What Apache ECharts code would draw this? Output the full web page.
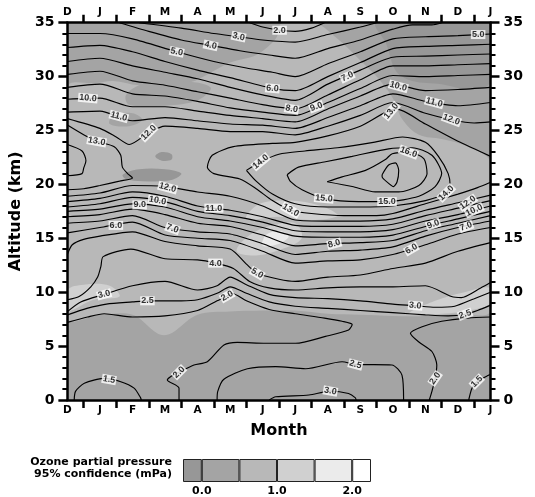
<!DOCTYPE html>
<html><head><meta charset="utf-8">
<script src="https://cdn.jsdelivr.net/npm/echarts@6/dist/echarts.min.js"></script>
<style>html,body{margin:0;padding:0;background:#fff}#c{width:535px;height:497px}</style>
</head><body><div id="c"></div>
<script>
const months = ['D','J','F','M','A','M','J','J','A','S','O','N','D','J'];

// contour lines: [monthIndex, altitude km]
const L15L = [[0.21,0],[0.25,0.8],[0.52,1.55],[1.12,2.0],[1.64,1.7],[2.05,1.1],[2.25,0.2],[2.27,0]];
const L15R = [[12.33,0],[12.43,1.1],[12.58,1.7],[12.94,2.3],[13,2.35]];
const L20 = [[0,7.2],[0.62,7.7],[1.13,8.0],[2.0,7.7],[3.0,7.8],[4.0,8.3],[4.6,9.2],[4.91,9.65],[5.05,9.9],[5.5,9.2],[6.2,8.4],[7.0,8.0],[7.9,7.6],[8.44,7.3],[8.75,7.0],[8.64,6.5],[7.93,5.9],[7.01,5.26],[6.09,5.26],[5.22,5.35],[4.81,5.1],[4.3,3.55],[3.89,3.25],[3.43,2.57],[3.17,2.16],[3.07,1.86],[3.43,1.1],[3.43,0]];
const L20R = [[13,7.7],[12.3,7.6],[11.5,7.3],[10.9,6.8],[10.54,6.2],[10.79,5.4],[11.2,4.5],[11.35,3.25],[11.3,2.0],[11.2,0.8],[11.12,0]];
const L25B = [[4.6,0],[4.62,0.8],[4.8,1.9],[5.53,2.9],[6.4,3.1],[7.32,2.9],[8.44,3.55],[8.85,3.3],[9.97,3.25],[10.28,2.3],[10.33,0]];
const L30B = [[6.2,0],[6.4,0.3],[7.42,0.46],[8.08,0.83],[8.64,0.6],[8.85,0.2],[8.87,0]];
const L25 = [[0,7.9],[0.6,8.5],[1.2,8.9],[2.0,9.1],[2.46,9.2],[3.5,9.2],[4.0,9.3],[4.6,9.9],[5.0,10.5],[5.5,9.9],[6.2,9.1],[7,8.7],[8,8.5],[9,8.3],[10,8.1],[11,7.9],[11.7,7.8],[12.22,7.95],[12.6,8.3],[13,8.8]];
const L30 = [[0,8.2],[0.41,9.1],[1.13,9.8],[2.0,10.6],[3.0,11.0],[4.0,10.2],[4.6,10.6],[5.0,11.4],[5.5,10.7],[6.2,9.8],[7,9.5],[8,9.4],[9,9.2],[10,8.9],[10.69,8.75],[11.3,8.6],[11.9,8.7],[12.5,9.4],[13,10.0]];
const L40 = [[0,9.3],[0.36,9.6],[0.72,10.5],[0.93,11.4],[1.03,12.4],[1.1,13.3],[1.95,14.0],[3.0,13.1],[4.0,13.0],[4.55,12.7],[5.1,12.2],[5.6,11.0],[6.2,10.4],[7,10.2],[8,10.4],[9,10.5],[10,10.5],[11,10.6],[11.8,9.6],[12.1,9.5],[12.7,10.4],[13,10.9]];
const L50 = [[0,13.5],[0.15,14.4],[0.5,14.9],[1,15.2],[2,15.6],[3,14.7],[4,14.3],[5,14.0],[5.5,12.6],[5.83,11.75],[6.5,11.2],[7,11.0],[8,11.4],[9,11.6],[10,12.2],[11,12.7],[12,13.8],[13,14.6]];
const L60 = [[0,15.5],[1,16.0],[2,16.5],[3,15.3],[4,15.0],[5,14.8],[6,13.8],[7,12.7],[8,12.9],[9,13.0],[10,13.5],[11,14.4],[12,15.4],[13,16.0]];
const L70 = [[0,16.4],[1,16.6],[2,17.1],[3,16.0],[4,15.6],[5,15.4],[6,14.5],[7,13.5],[8,13.8],[9,13.9],[10,14.2],[11,15.2],[12,16.0],[13,16.6]];
const L80 = [[0,17.0],[1,17.2],[2,17.7],[3,17.2],[4,16.4],[5,16.1],[6,15.3],[7,14.3],[8,14.5],[9,14.6],[10,14.8],[11,15.7],[12,16.4],[13,17.1]];
const L90 = [[0,17.5],[1,17.7],[2,18.2],[3,17.9],[4,17.0],[5,16.6],[6,16.0],[7,15.2],[8,15.1],[9,15.1],[10,15.3],[11,16.1],[12,16.8],[13,17.5]];
const L100 = [[0,17.9],[1,18.2],[2,18.8],[3,18.4],[4,17.5],[5,17.1],[6,16.5],[7,15.7],[8,15.6],[9,15.6],[10,15.8],[11,16.6],[12,17.2],[13,18.0]];
const L110 = [[0,18.4],[1,18.7],[2,19.3],[3,18.9],[4,18.0],[5,17.6],[6,17.0],[7,16.2],[8,16.1],[9,16.1],[10,16.3],[11,17.1],[12,17.8],[13,18.5]];
const L120 = [[0,18.9],[1,19.2],[2,19.9],[3,19.8],[4,19.3],[5,18.9],[6,18.0],[7,16.7],[8,16.6],[9,16.6],[10,16.8],[11,17.6],[12,18.3],[13,19.0]];
const C13 = [[13,22.6],[12.5,23.3],[12,24.0],[11,25.6],[10.1,27.0],[9,25.4],[8,24.5],[7,23.9],[6.3,23.8],[5.1,23.5],[4.45,22.7],[4.3,21.6],[4.5,21.0],[5.3,20.5],[5.8,19.6],[6.3,18.5],[6.86,17.6],[7.5,17.3],[8.5,17.1],[9.5,17.1],[10,17.3],[11,18.2],[12,19.1],[12.6,19.7],[13,20.2]];
const C13L = [[0,25.5],[0.5,24.6],[0.9,24.0],[1.44,23.5],[1.64,22.7],[1.69,21.6],[1.85,21.0],[2.0,20.6],[1.6,20.3],[1.0,19.9],[0.5,19.6],[0,19.5]];
const C14L = [[0,23.7],[0.45,23.1],[0.57,22.2],[0.5,21.5],[0.45,21.0],[0,20.8]];
const C14 = [[5.5,21.3],[5.94,22.1],[6.5,22.8],[7.3,23.1],[8.3,23.4],[9.4,23.9],[10.3,24.4],[11.0,23.9],[11.4,22.6],[11.7,21.0],[11.76,19.9],[11.64,19.2],[11.0,18.5],[10.0,18.0],[9.0,17.9],[8.0,17.9],[7.0,18.2],[6.3,19.1],[5.8,20.3],[5.5,21.3]];
const C15 = [[6.75,20.9],[7.1,21.6],[7.93,22.1],[8.75,22.6],[9.87,23.3],[10.6,23.4],[11.2,22.7],[11.5,21.0],[11.3,19.8],[10.8,18.9],[9.82,18.4],[8.95,18.4],[7.88,18.7],[7.21,19.5],[6.86,20.25],[6.75,20.9]];
const C16 = [[7.98,20.25],[8.44,20.7],[9.16,21.3],[9.77,22.3],[9.98,22.85],[10.48,23.0],[10.95,22.4],[11.05,21.0],[10.8,19.9],[10.18,19.3],[9.46,19.3],[8.75,19.8],[7.98,20.25]];
const C17 = [[9.67,20.9],[9.87,21.8],[10.08,22.0],[10.18,21.3],[10.13,20.25],[10.02,19.8],[9.87,20.1],[9.67,20.7],[9.67,20.9]];
const U2 = [[5.6,35],[6.0,34.6],[6.52,34.3],[7.0,34.2],[7.5,34.5],[7.9,35]];
const U3 = [[2.2,35],[3.5,34.5],[4.5,34.0],[5.26,33.7],[6.0,33.4],[7.0,33.2],[8.0,33.9],[9.0,34.6],[9.5,35]];
const U4 = [[1.6,35],[2.5,34.2],[3.5,33.4],[4.4,32.9],[5.3,32.4],[6.2,32.0],[7.0,31.7],[8.0,32.6],[9.0,33.4],[10.0,34.4],[10.6,34.8],[11.2,34.8],[11.5,35]];
const U5 = [[0,34.0],[1,34.0],[2,33.5],[3.36,32.3],[4.5,31.4],[5.5,30.8],[6.3,30.4],[7.0,30.0],[8.0,31.2],[9.0,32.3],[10.0,33.5],[11,33.7],[12,33.8],[12.62,33.9],[13,33.95]];
const U6 = [[0,32.7],[1,32.9],[2,32.3],[3,31.4],[4,30.6],[5,29.9],[6.3,28.9],[7.0,28.7],[8.0,30.0],[9.0,31.3],[10.0,32.6],[11,32.8],[12,32.9],[13,33.0]];
const U7 = [[0,31.4],[1,31.7],[2,31.0],[3,30.4],[4,29.8],[5,29.0],[6,28.3],[7.0,27.8],[8.0,29.3],[9.0,30.6],[10.0,31.8],[11,31.9],[12,32.0],[13,32.1]];
const U8 = [[0,30.2],[1,30.5],[2,29.6],[3,29.2],[4,28.6],[5,28.0],[6,27.4],[7.0,27.0],[8.0,28.3],[9.0,29.7],[10.0,31.0],[11,31.0],[12,31.1],[13,31.2]];
const U9 = [[0,29.0],[1,29.3],[2,28.4],[3,28.2],[4,27.7],[5,27.1],[6,26.7],[7.0,26.4],[8.0,27.6],[9.0,28.9],[10.0,30.1],[11,30.0],[12,30.1],[13,30.2]];
const U10 = [[0,27.9],[1,28.0],[2,27.2],[3,27.2],[4,26.8],[5,26.4],[6,26.1],[7.0,25.8],[8.0,27.0],[9.0,28.2],[10.0,29.3],[11,28.7],[12,28.8],[13,29.0]];
const U11 = [[0,26.7],[1,26.8],[2,25.9],[3,26.2],[4,25.9],[5,25.6],[6,25.5],[7.0,25.2],[8.0,26.2],[9.0,27.3],[10.0,28.4],[11,27.7],[12,27.3],[13,27.6]];
const U12 = [[0,26.1],[1,25.2],[1.5,24.4],[1.9,23.7],[2.5,24.8],[3,25.4],[4,25.2],[5,24.9],[6,24.9],[7.0,24.6],[8.0,25.4],[9.0,26.4],[10.0,27.6],[11,26.6],[11.8,26.0],[12.5,25.7],[13,25.8]];

const contours = [L15L,L15R,L20,L20R,L25B,L30B,L25,L30,L40,L50,L60,L70,L80,L90,L100,L110,L120,
  C13,C13L,C14L,C14,C15,C16,C17,U2,U3,U4,U5,U6,U7,U8,U9,U10,U11,U12];

// contour labels: [text, month, altitude, rotation]
const contourLabels = [
 ['2.0',6.52,34.3,0],['3.0',5.26,33.7,-12],['4.0',4.4,32.9,-12],['5.0',3.36,32.3,-12],
 ['6.0',6.3,28.9,-5],['7.0',8.6,30.0,25],['8.0',6.89,27.0,-10],['9.0',7.65,27.2,20],
 ['10.0',10.17,29.1,-15],['11.0',11.27,27.6,-15],['12.0',11.8,26.0,-20],['13.0',9.95,26.8,50],
 ['5.0',12.62,33.9,0],['10.0',0.63,28.0,-5],['11.0',1.58,26.3,-15],['12.0',2.5,24.8,45],
 ['13.0',0.9,24.0,-10],['14.0',5.94,22.1,40],['16.0',10.48,23.0,-20],['15.0',7.88,18.7,-5],
 ['15.0',9.82,18.4,0],['13.0',6.86,17.6,-30],['14.0',11.64,19.2,45],['12.0',12.3,18.3,35],
 ['10.0',12.5,17.6,25],['9.0',11.24,16.3,20],['7.0',12.25,16.1,20],['6.0',10.57,14.0,30],
 ['8.0',8.2,14.5,15],['12.0',3.08,19.7,-15],['10.0',2.77,18.5,-10],['9.0',2.22,18.1,0],
 ['11.0',4.5,17.8,0],['6.0',1.49,16.2,0],['7.0',3.23,15.9,-20],['4.0',4.55,12.7,0],
 ['5.0',5.83,11.75,-30],['3.0',1.13,9.8,15],['2.5',2.46,9.2,0],['2.0',4.91,9.65,30],
 ['1.5',1.28,1.9,-10],['2.0',3.43,2.57,45],['3.0',10.69,8.75,-5],['2.5',12.22,7.95,20],
 ['2.5',8.85,3.3,-15],['3.0',8.08,0.83,-10],['2.0',11.3,2.0,55],['1.5',12.58,1.7,45]
];

// confidence shading regions (95% confidence, mPa class)
const shadeLight = [[0,7.6],[1,7.9],[2,7.9],[2.97,6.0],[4,7.9],[5,8.2],[6,8.3],[7,8.3],[8,8.0],[9,7.9],[10,7.8],[11,7.8],[12,8.0],[13,8.3],[13,22],[12.3,23.5],[11.5,24.2],[10.8,24.6],[10.3,26],[10,28],[9.5,30],[9,31.5],[8.3,33.5],[7.6,35],[6.6,35],[6.4,33.5],[5.8,32.0],[5.0,31.3],[4.3,30.2],[3.8,29.5],[3,29.3],[2.2,29.2],[1.4,29.6],[0.9,29.4],[0,29.0]];
const shadeLighterA = [[0,8.3],[0.8,9.3],[1.6,9.6],[1.3,10.6],[0.5,10.7],[0,10.2]];
const shadeLighterB = [[10.5,8.0],[11.5,8.0],[12.5,8.4],[13,9.0],[13,10.4],[12.2,10.0],[11.3,9.2]];
const shadeLighterC = [[5.2,13.8],[5.8,13.4],[6.6,14.0],[7.2,15.0],[7.0,16.4],[6.3,16.2],[5.6,15.3]];
const shadeLighterD = [[5.5,16.8],[6.5,17.0],[7.5,16.7],[8.3,17.1],[7.8,18.0],[6.8,18.5],[5.9,18.2]];
const shadeWhiteA = [[6.0,14.3],[6.5,14.5],[6.8,15.2],[6.5,15.7],[6.1,15.3]];
const shadeDarkA = [[1.7,20.9],[2.2,21.4],[3.0,21.4],[3.5,21.0],[3.2,20.4],[2.3,20.3],[1.8,20.5]];
const shadeDarkB = [[2.7,22.6],[2.9,23.0],[3.2,22.8],[3.2,22.3],[2.9,22.2]];
const shadeDarkC = [[9.5,35],[9.8,33],[10.1,30.5],[10.6,29.6],[11.5,29.3],[12.4,28.8],[13,29.5],[13,35]];
const shadeBaseD = [[1.9,27.4],[3,27.3],[4,27.8],[4.4,29.0],[3.5,29.6],[2.3,29.3],[1.8,28.3]];
const shadeBaseE = [[1.3,25.6],[1.9,25.4],[2.3,26.0],[2.0,26.6],[1.4,26.4]];

const shades = [
 {pts: shadeLight, cls: 2}, {pts: shadeLighterA, cls: 3}, {pts: shadeLighterB, cls: 3},
 {pts: shadeLighterC, cls: 3}, {pts: shadeLighterD, cls: 3}, {pts: shadeWhiteA, cls: 4},
 {pts: shadeDarkA, cls: 0}, {pts: shadeDarkB, cls: 0}, {pts: shadeDarkC, cls: 0},
 {pts: shadeBaseD, cls: 1}, {pts: shadeBaseE, cls: 1}
];

// legend classes
const classColors = ['#979797','#a4a4a4','#b8b8b8','#d0d0d0','#ebebeb','#ffffff'];
const legendWidths = [-0.25, 0.5, 0.5, 0.5, 0.5, 0.25];
const legendTicks = [0, 1, 2];

const chart = echarts.init(document.getElementById('c'), null, {renderer: 'canvas'});
const fontA = 'DejaVu Sans';
const axisCommonX = {
  type: 'value', min: 0, max: 13, interval: 1, gridIndex: 0, z: 10,
  axisLine: {show: true, onZero: false, lineStyle: {color: '#000', width: 2.5}},
  axisTick: {show: false},
  minorTick: {show: true, splitNumber: 2, length: 8, lineStyle: {color: '#000', width: 2.5}},
  splitLine: {show: false}, minorSplitLine: {show: false},
  axisLabel: {formatter: v => months[v], color: '#000', fontFamily: fontA, fontWeight: 'bold', fontSize: 10.5, margin: 5}
};
const axisCommonY = {
  type: 'value', min: 0, max: 35, interval: 5, gridIndex: 0, z: 10,
  axisLine: {show: true, onZero: false, lineStyle: {color: '#000', width: 2.5}},
  axisTick: {show: true, length: 9, lineStyle: {color: '#000', width: 2.5}},
  minorTick: {show: true, splitNumber: 5, length: 5, lineStyle: {color: '#000', width: 2}},
  splitLine: {show: false}, minorSplitLine: {show: false},
  axisLabel: {color: '#000', fontFamily: fontA, fontWeight: 'bold', fontSize: 14, margin: 13}
};

const series = [];
series.push({
  type: 'custom', xAxisIndex: 0, yAxisIndex: 0, z: 1, silent: true, clip: true,
  data: shades.map(s => s.pts[0]),
  renderItem: (params, api) => {
    const s = shades[params.dataIndex];
    return {type: 'polygon', shape: {points: s.pts.map(p => api.coord(p)), smooth: 0.35},
      style: {fill: classColors[s.cls], stroke: null}};
  }
});
contours.forEach(c => series.push({
  type: 'line', xAxisIndex: 0, yAxisIndex: 0, data: c, symbol: 'none', smooth: 0.25,
  lineStyle: {color: '#000', width: 1.15}, silent: true, z: 3, animation: false
}));
series.push({
  type: 'scatter', xAxisIndex: 0, yAxisIndex: 0, symbolSize: 2, z: 5, silent: true,
  itemStyle: {color: 'rgba(0,0,0,0)'},
  data: contourLabels.map(l => ({name: l[0], value: [l[1], l[2]], label: {rotate: l[3]}})),
  label: {show: true, position: 'inside', formatter: p => p.name, color: '#000',
    fontFamily: 'Liberation Sans', fontWeight: 'bold', fontSize: 9,
    backgroundColor: '#fff', padding: [0, 1, 0, 1], lineHeight: 9}
});
legendWidths.forEach((w, i) => series.push({
  type: 'bar', xAxisIndex: 2, yAxisIndex: 2, stack: 'leg', barWidth: '100%', data: [w],
  itemStyle: {color: classColors[i], borderColor: '#222', borderWidth: 1}, silent: true
}));

chart.setOption({
  animation: false,
  backgroundColor: '#fff',
  grid: [
    {left: 66.5, top: 22.7, width: 424, height: 377.3, show: true, backgroundColor: classColors[1], borderWidth: 0},
    {left: 183, top: 459, width: 188, height: 23}
  ],
  xAxis: [
    Object.assign({}, axisCommonX, {position: 'bottom', name: 'Month', nameLocation: 'middle', nameGap: 23,
      nameTextStyle: {color: '#000', fontFamily: fontA, fontWeight: 'bold', fontSize: 16}}),
    Object.assign({}, axisCommonX, {position: 'top'}),
    {type: 'value', gridIndex: 1, min: -0.25, max: 2.25,
      axisLine: {show: false}, axisTick: {show: false}, splitLine: {show: false},
      axisLabel: {customValues: legendTicks, formatter: v => v.toFixed(1), color: '#000',
        fontFamily: fontA, fontWeight: 'bold', fontSize: 11, margin: 4}}
  ],
  yAxis: [
    Object.assign({}, axisCommonY, {position: 'left', name: 'Altitude (km)', nameLocation: 'middle', nameGap: 33,
      nameTextStyle: {color: '#000', fontFamily: fontA, fontWeight: 'bold', fontSize: 16}}),
    Object.assign({}, axisCommonY, {position: 'right'}),
    {type: 'category', gridIndex: 1, data: ['c'], show: false}
  ],
  graphic: [{
    type: 'text', x: 172, y: 456, silent: true,
    style: {text: 'Ozone partial pressure\n95% confidence (mPa)', align: 'right', verticalAlign: 'top',
      font: 'bold 11px "DejaVu Sans"', fill: '#000', lineHeight: 12}
  }],
  series: series
});
</script></body></html>
